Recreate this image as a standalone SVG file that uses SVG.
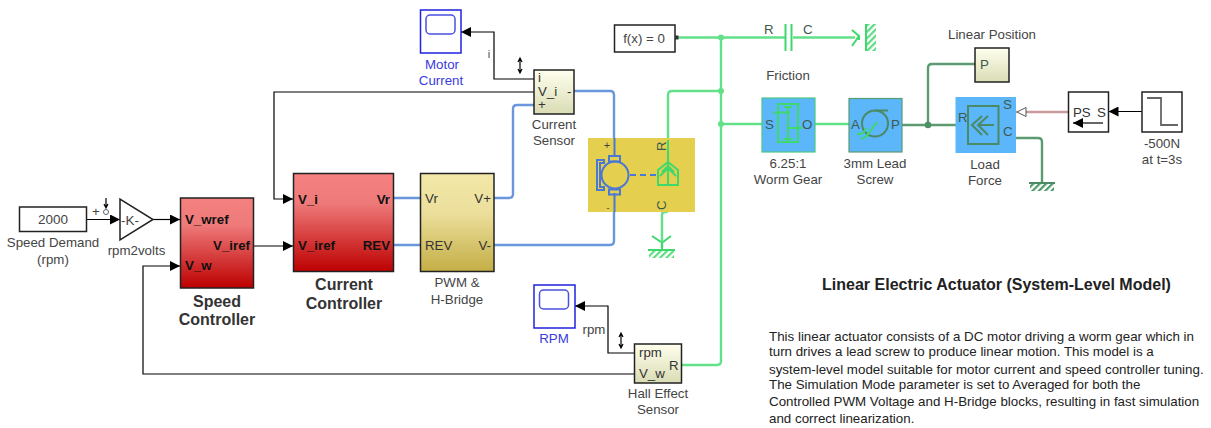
<svg xmlns="http://www.w3.org/2000/svg" width="1211" height="428" viewBox="0 0 1211 428">
<defs>
<linearGradient id="red" x1="0" y1="0" x2="0" y2="1"><stop offset="0" stop-color="#f58080"/><stop offset="0.3" stop-color="#ef7a7a"/><stop offset="1" stop-color="#bd0000"/></linearGradient>
<linearGradient id="gold" x1="0" y1="0" x2="0" y2="1"><stop offset="0" stop-color="#f3e8a8"/><stop offset="0.4" stop-color="#ecdf9c"/><stop offset="1" stop-color="#c4ae45"/></linearGradient>
<linearGradient id="pale" x1="0" y1="0" x2="0" y2="1"><stop offset="0" stop-color="#ffffee"/><stop offset="1" stop-color="#d9dcb4"/></linearGradient>
<pattern id="hg" width="4.500" height="4.500" patternUnits="userSpaceOnUse" patternTransform="rotate(45)"><rect width="2.200" height="4.500" fill="#5fdc82"/></pattern>
<pattern id="hd" width="4.500" height="4.500" patternUnits="userSpaceOnUse" patternTransform="rotate(45)"><rect width="2.200" height="4.500" fill="#4f9a6c"/></pattern>
<marker id="ah" markerWidth="12" markerHeight="10" refX="10" refY="5" orient="auto" markerUnits="userSpaceOnUse"><path d="M0 0L10 5L0 10Z" fill="#000"/></marker>
</defs>
<style>
text{font-family:"Liberation Sans",Arial,sans-serif;font-size:13.300px;fill:#444}
.m{text-anchor:middle}.e{text-anchor:end}
.b{font-weight:bold;fill:#111}.bl{font-weight:bold;font-size:16px;fill:#333;text-anchor:middle}
.p{fill:#333}.pd{fill:#3d5a4c}.blue{fill:#3a3ae0;text-anchor:middle}
.box{stroke:#222;stroke-width:1.5}
.sig{fill:none;stroke:#000;stroke-width:1.200}
.el{fill:none;stroke:#6a96dc;stroke-width:2.400}
.rot{fill:none;stroke:#63e188;stroke-width:2.400}
.tr{fill:none;stroke:#5c9a72;stroke-width:2.400}
.ps{fill:none;stroke:#c89a9a;stroke-width:2.400}
.ico{fill:none;stroke:#3ed86c;stroke-width:2}
.icd{fill:none;stroke:#4a8a64;stroke-width:2}
.mo{fill:none;stroke:#4a78d4;stroke-width:2}
.desc{font-size:13.350px;fill:#222}
</style>
<g id="connectors">
<path class="sig" d="M87 219.500H120" marker-end="url(#ah)"/>
<path class="sig" d="M153 219.500H180" marker-end="url(#ah)"/>
<path class="sig" d="M254 246H293" marker-end="url(#ah)"/>
<path class="sig" d="M534 92H274V199H293" marker-end="url(#ah)"/>
<path class="sig" d="M534 79H494V32H461" marker-end="url(#ah)"/>
<path class="sig" d="M634 374H143V266H180" marker-end="url(#ah)"/>
<path class="sig" d="M634 353H608V306H575" marker-end="url(#ah)"/>
<path class="sig" d="M1142 111.500H1108.500" marker-end="url(#ah)"/>
<path class="el" d="M394 198H420M394 245H420"/>
<path class="el" d="M494 198H509Q513 198 513 194V109Q513 105 517 105H534"/>
<path class="el" d="M574 91H610Q614 91 614 95V241Q614 245 610 245H494"/>
<path class="rot" d="M677 37.500H785M793 37.500H855"/>
<path class="rot" d="M721 37.500V361Q721 365 717 365H681"/>
<path class="rot" d="M721 91H672Q668 91 668 95V210Q668 212 665 212Q662 212 662 215V248"/>
<path class="rot" d="M721 124H762M815 124H849"/>
<path class="tr" d="M902 125H968M928 125V68Q928 64 932 64H975"/>
<path class="tr" d="M998 138H1038Q1042 138 1042 142V182"/>
<path class="ps" d="M1068 112H1026M998 112H1017"/>
<path d="M1026 107.500V116.500L1017 112Z" fill="#fff" stroke="#555" stroke-width="1"/>
<circle cx="721" cy="37.500" r="3" fill="#63e188"/><circle cx="721" cy="91" r="3" fill="#63e188"/><circle cx="721" cy="124" r="3" fill="#63e188"/>
<circle cx="928" cy="125" r="3.300" fill="#4f8f68"/>
</g>
<g id="speed-demand">
<rect class="box" x="19.500" y="207" width="67" height="24.500" fill="#fff"/>
<text class="m" x="53" y="224" style="font-size:13.500px" fill="#333">2000</text>
<text class="m" x="53" y="247">Speed Demand</text><text class="m" x="53" y="264">(rpm)</text>
<text x="92" y="216">+</text><circle cx="106" cy="212" r="2.500" fill="#fff" stroke="#666"/>
<path d="M106 198V208M104 204L106 208L108 204" fill="none" stroke="#000" stroke-width="1.200"/>
</g>
<g id="rpm2volts">
<path class="box" d="M120 199V240L153 219.500Z" fill="#fff"/>
<text x="130" y="224.500" class="m" style="font-size:13.500px">-K-</text>
<text class="m" x="136.500" y="255">rpm2volts</text>
</g>
<g id="speed-controller">
<rect class="box" x="180.500" y="198" width="73" height="90" fill="url(#red)"/>
<text class="b" x="185" y="224">V_wref</text><text class="b e" x="250" y="250">V_iref</text><text class="b" x="185" y="270">V_w</text>
<text class="bl" x="217" y="307">Speed</text><text class="bl" x="217" y="325">Controller</text>
</g>
<g id="current-controller">
<rect class="box" x="293.500" y="173.500" width="100" height="98" fill="url(#red)"/>
<text class="b" x="298" y="204">V_i</text><text class="b e" x="390" y="204">Vr</text>
<text class="b" x="298" y="250">V_iref</text><text class="b e" x="390" y="250">REV</text>
<text class="bl" x="344" y="290">Current</text><text class="bl" x="344" y="309">Controller</text>
</g>
<g id="pwm-bridge">
<rect class="box" x="420.500" y="173.500" width="73.500" height="98" fill="url(#gold)"/>
<text class="p" x="425" y="203">Vr</text><text class="p e" x="491" y="203">V+</text>
<text class="p" x="425" y="250">REV</text><text class="p e" x="491" y="250">V-</text>
<text class="m" x="457" y="287">PWM &amp;</text><text class="m" x="457" y="304">H-Bridge</text>
</g>
<g id="current-sensor">
<rect class="box" x="534" y="70" width="40" height="44" fill="url(#pale)"/>
<text class="p" x="538" y="82">i</text><text class="p" x="538" y="96">V_i</text><text class="p" x="538" y="109">+</text><text class="p" x="567" y="96">-</text>
<text class="m" x="554" y="129">Current</text><text class="m" x="554" y="145">Sensor</text>
<path d="M520 59V72M518 62L520 58L522 62M518 69L520 73L522 69" fill="none" stroke="#000" stroke-width="1.200"/>
<text x="489" y="58" class="m" style="font-size:11px">i</text>
</g>
<g id="motor-current">
<rect x="420.500" y="10" width="40.500" height="43" fill="#fff" stroke="#2222e0" stroke-width="1.500"/>
<rect x="426" y="15" width="29" height="19" rx="4" fill="#fff" stroke="#4a50e0" stroke-width="1.500"/>
<text class="blue" x="442" y="69">Motor</text><text class="blue" x="441" y="85">Current</text>
</g>
<g id="fx">
<rect class="box" x="614.500" y="25" width="60.500" height="27" fill="#fff"/>
<text class="m" x="644" y="43">f(x) = 0</text>
<rect x="675" y="35.500" width="3.500" height="4" fill="#333"/>
</g>
<g id="dc-motor">
<rect x="588" y="138" width="107" height="74" fill="#e5cf4f"/>
<text x="607" y="149" class="m" style="font-size:11px">+</text><text x="608" y="211" class="m" style="font-size:9px">-</text>
<text transform="translate(666,151) rotate(-90)" class="pd" x="0" y="0">R</text>
<text transform="translate(666,210) rotate(-90)" class="pd" x="0" y="0">C</text>
<path class="mo" d="M614.500 138V157M614.500 193V212"/>
<circle cx="615" cy="175" r="13.500" fill="#e5cf4f" stroke="#4a78d4" stroke-width="2"/>
<rect class="mo" x="609" y="156" width="11" height="5.500"/><rect class="mo" x="609" y="189.500" width="11" height="5"/>
<path class="mo" d="M604 160H597V190H604V187H600V163H604Z"/>
<path d="M630 175H658" stroke="#4a78d4" stroke-width="2" stroke-dasharray="6 4"/>
<path class="ico" d="M658 185V170L668 162L678 170V185Z"/>
<path class="ico" d="M668 140V185M662 172L668 166L674 172M660 176L668 168L676 176"/>
</g>
<g id="motor-ground">
<path class="ico" d="M662 242V250"/>
<path class="ico" d="M652 236L661 242M671 236L663 242" stroke-width="3"/>
<path class="ico" d="M648 250H675"/>
<rect x="649" y="251" width="25" height="7" fill="url(#hg)"/>
</g>
<g id="friction">
<text class="pd" x="764" y="34">R</text><text class="pd" x="803" y="34">C</text>
<path class="ico" d="M785.500 24V51M791.500 24V51" stroke-width="2.500"/>
<text class="m" x="788" y="80">Friction</text>
<path class="ico" d="M852 30L859 36L852 46M859 36V40" stroke-width="2.500"/>
<path class="ico" d="M866 24V51"/><rect x="867" y="24" width="9" height="27" fill="url(#hg)"/>
</g>
<g id="worm-gear">
<rect x="762" y="98" width="53" height="54" fill="#5bb6fa" stroke="#4cc782" stroke-width="1.200"/>
<text class="pd" x="765" y="129">S</text><text class="pd" x="802" y="129">O</text>
<path class="ico" d="M778 104H798V142H778Z"/>
<path class="ico" d="M773 112.500H790M788 107V142M788 128H802" stroke-width="2.500"/><path class="ico" d="M783 139H793M784 107H792"/>
<text class="m" x="788" y="168">6.25:1</text><text class="m" x="788" y="184">Worm Gear</text>
</g>
<g id="lead-screw">
<rect x="849" y="98.500" width="53" height="53.500" fill="#5bb6fa" stroke="#5c9a72" stroke-width="1.200"/>
<text class="pd" x="851" y="129">A</text><text class="pd" x="891" y="129">P</text>
<circle cx="875" cy="123.500" r="13" fill="none" stroke="#4a8a64" stroke-width="2"/>
<path class="icd" d="M875 110.500H888"/>
<path class="ico" d="M865 138L877 122" stroke-width="4"/><path class="ico" d="M857 134Q864 135 866 128M861 139Q867 137 869 132"/>
<text class="m" x="875" y="168">3mm Lead</text><text class="m" x="875" y="184">Screw</text>
</g>
<g id="linear-position">
<rect class="box" x="975" y="48" width="34" height="34" fill="url(#pale)"/>
<text class="pd" x="980" y="69">P</text>
<text class="m" x="992" y="39">Linear Position</text>
</g>
<g id="load-force">
<rect x="955.500" y="97" width="60.500" height="56" fill="#5bb6fa"/>
<text class="pd" x="958" y="122">R</text><text class="pd" x="1003" y="109">S</text><text class="pd" x="1003" y="136">C</text>
<rect class="icd" x="968" y="106" width="30.500" height="38"/>
<path class="icd" d="M982 116L972 125L982 135M988 116L978 125L988 135M978 125H994"/>
<text class="m" x="985" y="169">Load</text><text class="m" x="985" y="185">Force</text>
</g>
<g id="load-ground">
<path class="icd" d="M1029 183H1055"/><rect x="1030" y="184" width="24" height="7" fill="url(#hd)"/>
</g>
<g id="ps-s">
<rect class="box" x="1068.500" y="92" width="40" height="40" fill="#fff"/>
<text class="p" x="1073" y="117">PS</text><text class="p" x="1097" y="117">S</text>
<path d="M1103 123H1073" stroke="#000" stroke-width="1.200" marker-end="url(#ah)"/>
</g>
<g id="step">
<rect class="box" x="1142" y="92" width="40" height="40" fill="#fff"/>
<path d="M1147 98H1161V125H1178" fill="none" stroke="#666" stroke-width="1.800"/>
<text class="m" x="1162" y="148">-500N</text><text class="m" x="1162" y="164">at t=3s</text>
</g>
<g id="rpm-scope">
<rect x="534" y="285" width="41" height="43" fill="#fff" stroke="#2222e0" stroke-width="1.500"/>
<rect x="539.500" y="290" width="29" height="19" rx="4" fill="#fff" stroke="#4a50e0" stroke-width="1.500"/>
<text class="blue" x="554" y="343">RPM</text>
</g>
<g id="hall-sensor">
<rect class="box" x="634.500" y="344" width="47" height="39" fill="url(#pale)"/>
<text class="p" x="639" y="357">rpm</text><text class="p" x="639" y="378">V_w</text><text class="p" x="669" y="370">R</text>
<text class="m" x="658" y="398">Hall Effect</text><text class="m" x="658" y="414">Sensor</text>
<text class="m" x="594" y="334">rpm</text>
<path d="M621 334V347M619 337L621 333L623 337M619 344L621 348L623 344" fill="none" stroke="#000" stroke-width="1.200"/>
</g>
<g id="annotation">
<text x="996.500" y="290" class="m" style="font-weight:bold;font-size:16px;fill:#222">Linear Electric Actuator (System-Level Model)</text>
<text class="desc" x="769" y="341">This linear actuator consists of a DC motor driving a worm gear which in</text>
<text class="desc" x="769" y="356">turn drives a lead screw to produce linear motion. This model is a</text>
<text class="desc" x="769" y="374">system-level model suitable for motor current and speed controller tuning.</text>
<text class="desc" x="769" y="389">The Simulation Mode parameter is set to Averaged for both the</text>
<text class="desc" x="769" y="406">Controlled PWM Voltage and H-Bridge blocks, resulting in fast simulation</text>
<text class="desc" x="769" y="423">and correct linearization.</text>
</g>
</svg>
